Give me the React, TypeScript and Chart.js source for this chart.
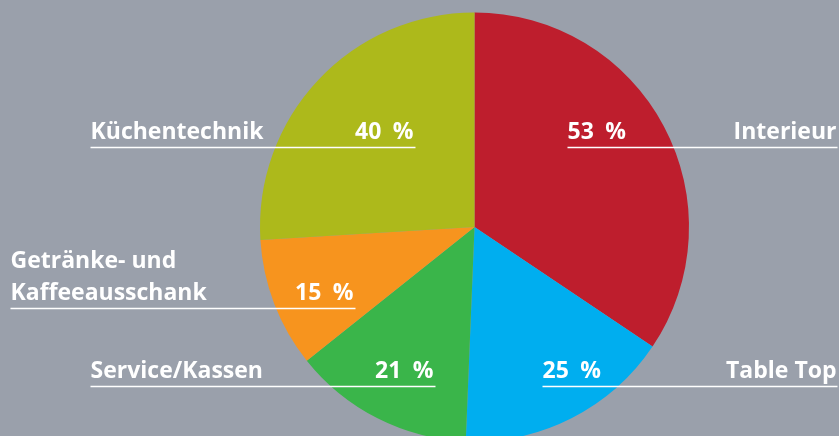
import React, { useEffect, useRef } from "react";
import { Chart, registerables } from "chart.js";

Chart.register(...registerables);

const categories = ["Interieur", "Table Top", "Service/Kassen", "Getränke- und Kaffeeausschank", "Küchentechnik"];
const values = [53, 25, 21, 15, 40];
const percentLabels = ["53 %", "25 %", "21 %", "15 %", "40 %"];
const colors = ["#BE1E2D", "#00AEEF", "#3AB54A", "#F7941E", "#ADB91B"];

const BG = "#9AA0AB";
const FONT = "bold 23px 'Open Sans', sans-serif";

const labelPlugin = {
  id: "sideLabels",
  afterDraw(chart: any) {
    const meta = chart.getDatasetMeta(0);
    const arc = meta.data[0];
    if (!arc) return;
    const cx = arc.x;
    const cy = arc.y;
    const ctx = chart.ctx;
    ctx.save();
    ctx.fillStyle = "#ffffff";
    ctx.strokeStyle = "#ffffff";
    ctx.lineWidth = 1.5;
    ctx.font = FONT;
    ctx.textBaseline = "alphabetic";

    const rows: any[] = [
      { name: ["Interieur"], pct: percentLabels[0], nx: cx + 362, na: "right", px: cx + 93, pa: "left", by: cy - 88, x1: cx + 93, x2: cx + 363 },
      { name: ["Table Top"], pct: percentLabels[1], nx: cx + 362, na: "right", px: cx + 68, pa: "left", by: cy + 151, x1: cx + 68, x2: cx + 363 },
      { name: ["Service/Kassen"], pct: percentLabels[2], nx: cx - 384, na: "left", px: cx - 41, pa: "right", by: cy + 151, x1: cx - 384, x2: cx - 39 },
      { name: ["Getränke- und", "Kaffeeausschank"], pct: percentLabels[3], nx: cx - 464, na: "left", px: cx - 121, pa: "right", by: cy + 73, x1: cx - 464, x2: cx - 119 },
      { name: ["Küchentechnik"], pct: percentLabels[4], nx: cx - 384, na: "left", px: cx - 61, pa: "right", by: cy - 88, x1: cx - 384, x2: cx - 59 },
    ];
    for (const r of rows) {
      ctx.textAlign = r.na;
      const n = r.name.length;
      r.name.forEach((t: string, i: number) => {
        ctx.fillText(t, r.nx, r.by - (n - 1 - i) * 32);
      });
      ctx.textAlign = r.pa;
      ctx.fillText(r.pct.replace(" ", "\u2002"), r.px, r.by);
      ctx.beginPath();
      ctx.moveTo(r.x1, r.by + 8.5);
      ctx.lineTo(r.x2, r.by + 8.5);
      ctx.stroke();
    }
    ctx.restore();
  },
};

export default function App() {
  const ref = useRef<HTMLCanvasElement | null>(null);
  useEffect(() => {
    if (!ref.current) return;
    const chart = new Chart(ref.current, {
      type: "pie",
      data: {
        labels: categories,
        datasets: [
          {
            data: values,
            backgroundColor: colors,
            borderWidth: 0,
            radius: 214.5,
          },
        ],
      },
      options: {
        animation: false,
        responsive: true,
        maintainAspectRatio: false,
        layout: { padding: { left: 110, right: 0, top: 0, bottom: 0 } },
        plugins: { legend: { display: false }, tooltip: { enabled: false } },
      },
      plugins: [labelPlugin],
    });
    return () => chart.destroy();
  }, []);
  return (
    <div style={{ position: "fixed", left: 0, top: 0, width: 839, height: 436, overflow: "hidden", background: BG }}>
      <div style={{ position: "relative", width: 839, height: 454 }}>
        <canvas ref={ref} />
      </div>
    </div>
  );
}
